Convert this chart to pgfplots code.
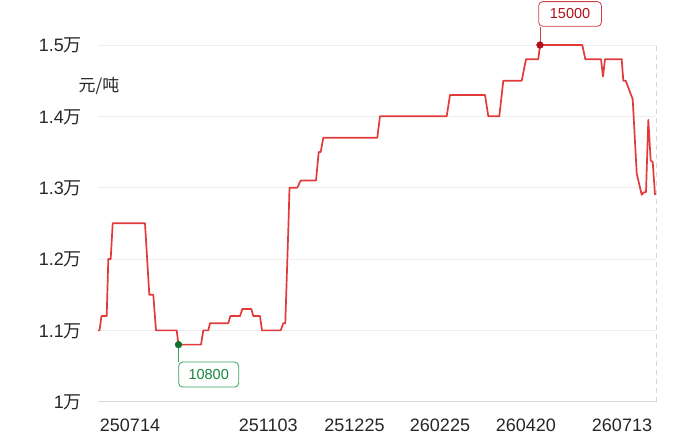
\documentclass[border=0pt]{standalone}
\usepackage{pgfplots}
\pgfplotsset{compat=1.18}
\usepackage{fontspec}
\setmainfont{Liberation Sans}
\newfontfamily\cjk{Noto Sans CJK SC}

\definecolor{linered}{RGB}{226,58,58}
\definecolor{peakred}{RGB}{178,16,24}
\definecolor{boxred}{RGB}{206,64,72}
\definecolor{lowgreen}{RGB}{18,112,44}
\definecolor{boxgreen}{RGB}{52,164,92}
\definecolor{txtgreen}{RGB}{22,136,62}
\definecolor{gridc}{RGB}{238,238,240}

\pgfplotstableread{
x y
0 11000
1.5 11000
3.5 11200
8.7 11200
10.3 12000
12.7 12000
14.7 12500
47 12500
51.3 11500
55.3 11500
58 11000
78.7 11000
80.5 10800
103 10800
105.3 11000
110.3 11000
112 11100
130.3 11100
132.3 11200
142 11200
144.3 11300
153.3 11300
155.3 11200
162 11200
164 11000
182.7 11000
185.3 11100
187.3 11100
190.5 12500
191.5 13000
199.3 13000
202.7 13100
218 13100
220.7 13500
222.7 13500
225.3 13700
279.3 13700
282 14000
348.7 14000
352 14300
387 14300
390.3 14000
401.3 14000
405.3 14500
423.7 14500
428 14800
440.3 14800
442 15000
484.3 15000
487.3 14800
503 14800
505 14560
507 14800
523.7 14800
525.3 14500
527.7 14500
534.7 14240
538.7 13200
543.7 12900
545.3 12930
548 12940
550.3 13950
552.7 13380
554.7 13360
557 12900
}\price

\begin{document}
\begin{tikzpicture}
\useasboundingbox (0,0) rectangle (700pt,446pt);
\begin{axis}[
    at={(98pt,44.3pt)}, anchor=south west,
    scale only axis, width=558pt, height=356.7pt,
    xmin=0, xmax=558, ymin=10000, ymax=15000,
    clip=false,
    scaled y ticks=false,
    axis line style={draw=none},
    tick style={draw=none},
    ymajorgrids, grid style={gridc, line width=0.8pt},
    ytick={10000,11000,12000,13000,14000,15000},
    yticklabels={1{\cjk 万},1.1{\cjk 万},1.2{\cjk 万},1.3{\cjk 万},1.4{\cjk 万},1.5{\cjk 万}},
    xtick={32,170.3,256.5,342,427.8,524},
    xticklabels={250714,251103,251225,260225,260420,260713},
    ticklabel style={font=\fontsize{18}{20}\selectfont, text=black!85},
    yticklabel style={anchor=base east, xshift=-16pt, yshift=-6.7pt, inner sep=0pt},
    xticklabel style={anchor=base, yshift=-30pt, inner sep=0pt},
]
\addplot[draw=black!14, line width=0.9pt] coordinates {(0,10000) (558,10000)};
\addplot[draw=black!16, line width=0.9pt, dash pattern=on 5pt off 4pt] coordinates {(558,10000) (558,15000)};
\addplot[linered, line width=1.7pt, line join=round] table[x=x,y=y] {\price};
% max / min markers
\addplot[boxred, line width=0.7pt] coordinates {(442,15000) (442,15256)};
\addplot[boxgreen, line width=0.7pt] coordinates {(80.5,10800) (80.5,10561)};
\addplot[only marks, mark=*, mark size=3.4pt, peakred] coordinates {(442,15000)};
\addplot[only marks, mark=*, mark size=3.4pt, lowgreen] coordinates {(80.5,10800)};
\node[draw=boxred, line width=0.8pt, rounded corners=4pt, fill=white, anchor=south west,
      minimum width=62.7pt, minimum height=24.7pt, inner sep=0pt, text=peakred,
      font=\fontsize{14.5}{16}\selectfont] at (axis cs:440.3,15256) {15000};
\node[draw=boxgreen, line width=0.8pt, rounded corners=4pt, fill=white, anchor=north west,
      minimum width=60pt, minimum height=25pt, inner sep=0pt, text=txtgreen,
      font=\fontsize{14.5}{16}\selectfont] at (axis cs:80.3,10561) {10800};
\node[font=\fontsize{17}{19}\cjk, text=black!85] at (axis cs:1,14425) {元/吨};
\end{axis}
\end{tikzpicture}
\end{document}
